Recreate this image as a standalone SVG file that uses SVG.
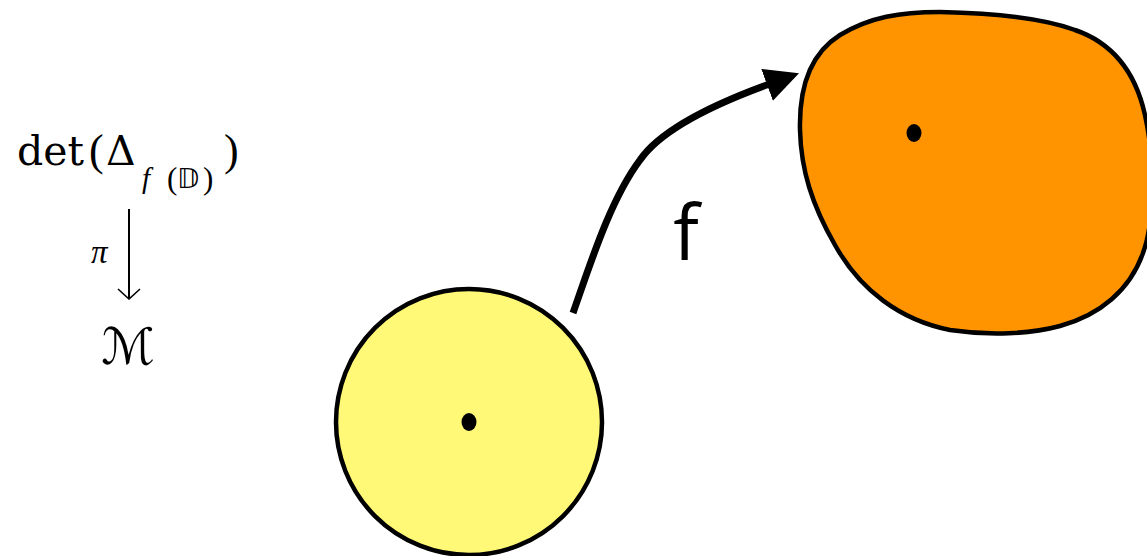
<svg xmlns="http://www.w3.org/2000/svg" width="1147" height="556" viewBox="0 0 1147 556">
<style>
.m{font-family:"DejaVu Serif","Liberation Serif",serif;fill:#000}
.l{font-family:"Liberation Serif","DejaVu Serif",serif;fill:#000}
.shape{stroke:#000;stroke-width:4.5}
.dot{fill:#000}
.conn{fill:none;stroke:#000}
</style>
<defs>
<marker id="ah" viewBox="0 0 34 34" refX="1" refY="17" markerWidth="34" markerHeight="34" markerUnits="userSpaceOnUse" orient="auto">
<path d="M0,0 L34,17 L0,34 Z" fill="#000"/>
</marker>
<marker id="open" viewBox="0 0 24 12" refX="12" refY="11" markerWidth="24" markerHeight="12" markerUnits="userSpaceOnUse" orient="0">
<path d="M1,1 L12,11 L23,1" fill="none" stroke="#000" stroke-width="1.6"/>
</marker>
</defs>
<g id="label-det">
<text class="m" x="17" y="165" font-size="41">det</text>
<text class="l" x="89" y="165" font-size="44">(</text>
<text class="m" x="106" y="165" font-size="41">Δ</text>
<text class="l" x="142" y="188" font-size="29" font-style="italic">f</text>
<text class="l" x="167" y="189" font-size="31">(</text>
<text x="177" y="188" font-size="27" style="font-family:'DejaVu Sans','DejaVu Serif',sans-serif">𝔻</text>
<text class="l" x="203" y="189" font-size="31">)</text>
<text class="l" x="224" y="165" font-size="44">)</text>
</g>
<g id="label-pi">
<text class="l" x="91" y="263" font-size="33" font-style="italic">π</text>
</g>
<g id="label-M">
<text x="128" y="364" font-size="50" text-anchor="middle" style="font-family:'DejaVu Serif','DejaVu Sans',serif" font-style="italic">ℳ</text>
</g>
<g id="disk">
<circle class="shape" cx="469" cy="422" r="133" fill="#FFF977"/>
<ellipse class="dot" cx="469" cy="422" rx="7.5" ry="9"/>
</g>
<g id="image">
<path class="shape" fill="#FF9400" d="M 800,130 C 799,90 808,55 840,35 C 870,17 900,12 940,12 C 990,13 1040,17 1075,30 C 1110,42 1135,70 1145,115 C 1155,160 1155,220 1143,253 C 1130,290 1100,315 1060,326 C 1030,334 990,336 950,330 C 900,320 860,290 835,245 C 812,205 801,170 800,130 Z"/>
<ellipse class="dot" cx="914" cy="133" rx="7.5" ry="9"/>
</g>
<g id="connectors">
<path class="conn" stroke-width="7" d="M 573,313 C 590,265 610,200 640,160 C 662,128 720,102 768,84.5" marker-end="url(#ah)"/>
<path class="conn" stroke-width="2" d="M 129,209 L 129,299" marker-end="url(#open)"/>
</g>
<g id="label-f">
<text x="686" y="260" font-size="76" text-anchor="middle" style="font-family:'Open Sans',sans-serif">f</text>
</g>
</svg>
